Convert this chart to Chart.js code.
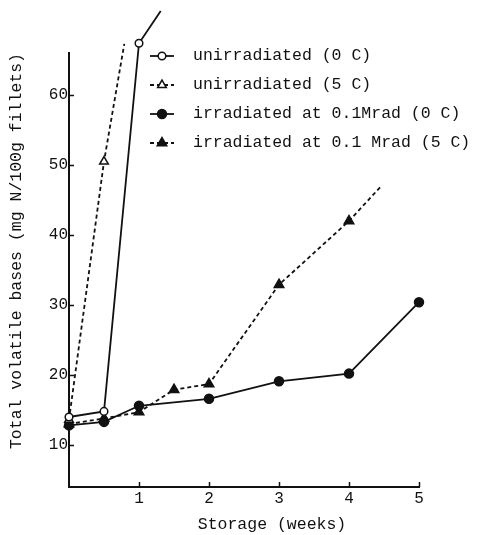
<!DOCTYPE html>
<html>
<head>
<meta charset="utf-8">
<script src="https://cdn.jsdelivr.net/npm/chart.js@4/dist/chart.umd.min.js"></script>
<style>
  html, body { margin: 0; padding: 0; background: #fff; }
  canvas { display: block; }
</style>
</head>
<body>
<canvas id="tvbChart" width="481" height="535"></canvas>
<script>
// Total volatile bases in fillets vs storage time

const seriesLabels = [
  'unirradiated (0 C)',
  'unirradiated (5 C)',
  'irradiated at 0.1Mrad (0 C)',
  'irradiated at 0.1 Mrad (5 C)'
];

// the last point of curves 1, 2 and 4 is where the drawn line runs out (no marker)
const unirr0Weeks  = [0, 0.5, 1, 1.31];
const unirr0Values = [14.0, 14.8, 67.4, 72.0];

const unirr5Weeks  = [0, 0.5, 0.79];
const unirr5Values = [13.6, 50.5, 67.3];

const irr0Weeks  = [0, 0.5, 1, 2, 3, 4, 5];
const irr0Values = [12.8, 13.3, 15.6, 16.6, 19.1, 20.2, 30.4];

const irr5Weeks  = [0, 0.5, 1, 1.5, 2, 3, 4, 4.47];
const irr5Values = [13.0, 13.8, 14.7, 17.9, 18.7, 32.9, 42.0, 47.1];

const xTicks = [1, 2, 3, 4, 5];
const yTicks = [10, 20, 30, 40, 50, 60];

const INK  = '#111';
const FONT = '"Liberation Mono", "DejaVu Sans Mono", monospace';

const styles = [
  { pointStyle: 'circle',   filled: false, dash: [],     radius: 3.8, tail: true  },
  { pointStyle: 'triangle', filled: false, dash: [4, 3], radius: 5,   tail: true  },
  { pointStyle: 'circle',   filled: true,  dash: [],     radius: 4.5, tail: false },
  { pointStyle: 'triangle', filled: true,  dash: [4, 3], radius: 5.5, tail: true  }
];

const toXY = (xs, ys) => xs.map((x, i) => ({ x, y: ys[i] }));
const series = [
  toXY(unirr0Weeks, unirr0Values),
  toXY(unirr5Weeks, unirr5Values),
  toXY(irr0Weeks, irr0Values),
  toXY(irr5Weeks, irr5Values)
];

const hasMarker = (i, j) => !(styles[i].tail && j === series[i].length - 1);

function drawMarker(ctx, s, x, y) {
  const r = s.radius;
  ctx.beginPath();
  if (s.pointStyle === 'circle') {
    ctx.arc(x, y, r, 0, Math.PI * 2);
  } else {
    let a = 0;
    for (let k = 0; k < 3; k++) {
      const px = x + Math.sin(a) * r, py = y - Math.cos(a) * r;
      k ? ctx.lineTo(px, py) : ctx.moveTo(px, py);
      a += Math.PI * 2 / 3;
    }
    ctx.closePath();
  }
  ctx.fillStyle = s.filled ? INK : '#fff';
  ctx.fill();
  ctx.lineWidth = 1.5;
  ctx.strokeStyle = INK;
  ctx.stroke();
}

// Chart.js skips markers that sit above the axis top; the scan plots them anyway
const overflowMarkers = {
  id: 'overflowMarkers',
  afterDatasetsDraw(chart) {
    const { ctx, chartArea: a } = chart;
    ctx.save();
    chart.data.datasets.forEach((ds, i) => {
      chart.getDatasetMeta(i).data.forEach((pt, j) => {
        if (!hasMarker(i, j)) return;
        const inside = pt.x >= a.left && pt.x <= a.right && pt.y >= a.top && pt.y <= a.bottom;
        if (!inside) drawMarker(ctx, styles[i], pt.x, pt.y);
      });
    });
    ctx.restore();
  }
};

// legend floats over the upper right of the plot
const legendPlugin = {
  id: 'floatingLegend',
  afterDraw(chart) {
    const { ctx } = chart;
    chart.data.datasets.forEach((ds, i) => {
      const s = styles[i];
      const y = 56 + i * 29;
      ctx.save();
      ctx.strokeStyle = INK;
      ctx.lineWidth = 1.8;
      ctx.setLineDash(s.dash);
      ctx.beginPath();
      ctx.moveTo(150, y);
      ctx.lineTo(174, y);
      ctx.stroke();
      ctx.setLineDash([]);
      drawMarker(ctx, s, 162, y);
      ctx.fillStyle = INK;
      ctx.font = '16.5px ' + FONT;
      ctx.textBaseline = 'middle';
      ctx.fillText(ds.label, 193, y);
      ctx.restore();
    });
  }
};

// inward tick marks + x axis title
const axisPlugin = {
  id: 'axisExtras',
  afterDraw(chart) {
    const { ctx, chartArea: { left, bottom }, scales: { x, y } } = chart;
    ctx.save();
    ctx.strokeStyle = INK;
    ctx.lineWidth = 1.5;
    ctx.beginPath();
    yTicks.forEach(v => {
      const py = Math.round(y.getPixelForValue(v)) + 0.5;
      ctx.moveTo(left, py);
      ctx.lineTo(left + 5, py);
    });
    xTicks.forEach(v => {
      const px = Math.round(x.getPixelForValue(v)) + 0.5;
      ctx.moveTo(px, bottom);
      ctx.lineTo(px, bottom - 5);
    });
    ctx.stroke();
    ctx.fillStyle = INK;
    ctx.font = '16.5px ' + FONT;
    ctx.textAlign = 'center';
    ctx.textBaseline = 'middle';
    ctx.fillText('Storage (weeks)', 272, 525);
    ctx.restore();
  }
};

new Chart(document.getElementById('tvbChart'), {
  type: 'line',
  data: {
    datasets: series.map((data, i) => {
      const s = styles[i];
      return {
        label: seriesLabels[i],
        data,
        borderColor: INK,
        borderWidth: 1.8,
        borderDash: s.dash,
        pointStyle: s.pointStyle,
        pointRadius: c => hasMarker(i, c.dataIndex) ? s.radius : 0,
        pointHoverRadius: 0,
        pointBackgroundColor: s.filled ? INK : '#fff',
        pointBorderColor: INK,
        pointBorderWidth: 1.5,
        tension: 0,
        clip: false
      };
    })
  },
  options: {
    responsive: false,
    animation: false,
    events: [],
    layout: { padding: { top: 53, right: 62, left: 0, bottom: 0 } },
    plugins: { legend: { display: false }, tooltip: { enabled: false } },
    scales: {
      x: {
        type: 'linear',
        min: 0,
        max: 5,
        afterBuildTicks: sc => { sc.ticks = xTicks.map(v => ({ value: v })); },
        afterFit: sc => { sc.height = 48; },
        grid: { drawOnChartArea: false, drawTicks: false },
        border: { color: INK, width: 2 },
        ticks: { color: INK, padding: 2, font: { family: FONT, size: 16 } }
      },
      y: {
        min: 4,
        max: 66,
        afterBuildTicks: sc => { sc.ticks = yTicks.map(v => ({ value: v })); },
        afterFit: sc => { sc.width = 69; },
        grid: { drawOnChartArea: false, drawTicks: false },
        border: { color: INK, width: 2 },
        ticks: { color: INK, padding: 1, font: { family: FONT, size: 16 } },
        title: {
          display: true,
          text: 'Total volatile bases (mg N/100g fillets)',
          align: 'end',
          color: INK,
          font: { family: FONT, size: 16.5 },
          padding: { top: 7, bottom: 0 }
        }
      }
    }
  },
  plugins: [overflowMarkers, legendPlugin, axisPlugin]
});
</script>
</body>
</html>
